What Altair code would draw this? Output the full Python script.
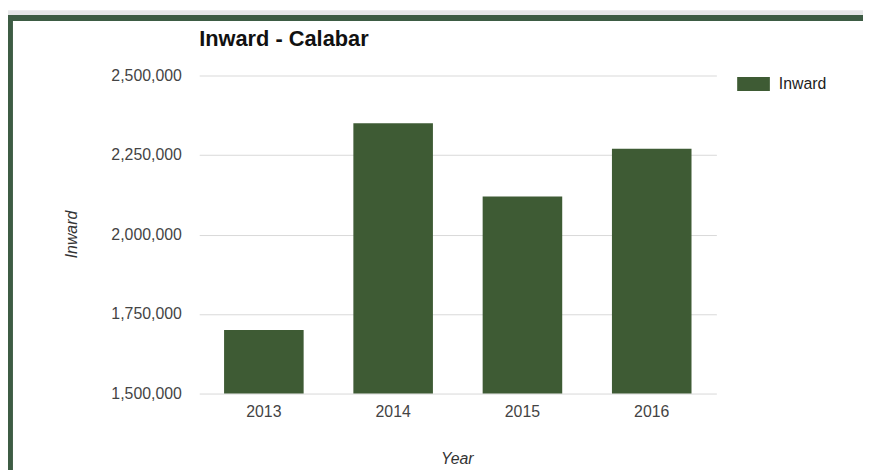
import altair as alt
import pandas as pd

years = ["2013", "2014", "2015", "2016"]
inward = [1700000, 2350000, 2120000, 2270000]
series = ["Inward"] * len(years)
y_ticks = [1500000, 1750000, 2000000, 2250000, 2500000]
y_min, y_max = 1500000, 2500000

BAR = "#3e5b34"
FRAME = "#3d5c44"
GRAY_BG = "#e6e7e8"
FONT = "Liberation Sans"

df = pd.DataFrame({"Year": years, "Inward": inward, "Series": series})

bars = alt.Chart(df).mark_bar(color=BAR).encode(
    x=alt.X("Year:N", sort=years,
            scale=alt.Scale(paddingInner=0.3846, paddingOuter=0.1923),
            axis=alt.Axis(title="Year", labelAngle=0, labelFontSize=16, labelColor="#444444",
                          labelFont=FONT, labelPadding=10, ticks=False, domain=False, grid=False,
                          titleFont=FONT, titleFontSize=16, titleFontStyle="italic",
                          titleFontWeight="normal", titleColor="#333333",
                          titleX=260, titleY=66, titleBaseline="middle", titleAnchor="middle")),
    y=alt.Y("Inward:Q",
            scale=alt.Scale(domain=[y_min, y_max], zero=False, nice=False),
            axis=alt.Axis(title="Inward", values=y_ticks,
                          labelExpr="format(datum.value, ',')", labelFontSize=16,
                          labelColor="#444444", labelFont=FONT, labelPadding=18, ticks=False,
                          domain=False, grid=True, gridColor="#d9d9d9", gridWidth=1,
                          titleFont=FONT, titleFontSize=16, titleFontStyle="italic",
                          titleFontWeight="normal", titleColor="#333333",
                          titleX=-129, titleY=160, titleAngle=270, titleBaseline="middle",
                          titleAnchor="middle")),
    y2=alt.datum(y_min),
    color=alt.Color("Series:N", scale=alt.Scale(range=[BAR]),
                    legend=alt.Legend(title=None, orient="none", legendX=543, legendY=-8,
                                      symbolType="M-1,-0.424L1,-0.424L1,0.424L-1,0.424Z",
                                      symbolSize=1089, symbolStrokeWidth=0, symbolOpacity=1,
                                      labelFontSize=16, labelFont=FONT, labelColor="#222222",
                                      labelOffset=9, padding=0)),
)

one = alt.Data(values=[{"k": 1}])
gray_band = alt.Chart(one).mark_rect(color=GRAY_BG).encode(
    x=alt.value(-193), x2=alt.value(672), y=alt.value(-66), y2=alt.value(-61))
green_top = alt.Chart(one).mark_rect(color=FRAME).encode(
    x=alt.value(-193), x2=alt.value(672), y=alt.value(-61), y2=alt.value(-55))
green_left = alt.Chart(one).mark_rect(color=FRAME).encode(
    x=alt.value(-193), x2=alt.value(-188), y=alt.value(-61), y2=alt.value(400))

chart = alt.layer(gray_band, green_top, green_left, bars).properties(
    width=522, height=321,
    padding={"left": 193, "top": 66, "right": 148, "bottom": 75},
    autosize=alt.AutoSizeParams(type="none"),
    background="white",
    title=alt.TitleParams("Inward - Calabar", anchor="start", frame="group", font=FONT,
                          fontSize=22, fontWeight="bold", color="#111111",
                          baseline="alphabetic", offset=-58),
).configure_view(stroke=None)

chart.save("out.html", embed_options={"renderer": "svg", "actions": False})
